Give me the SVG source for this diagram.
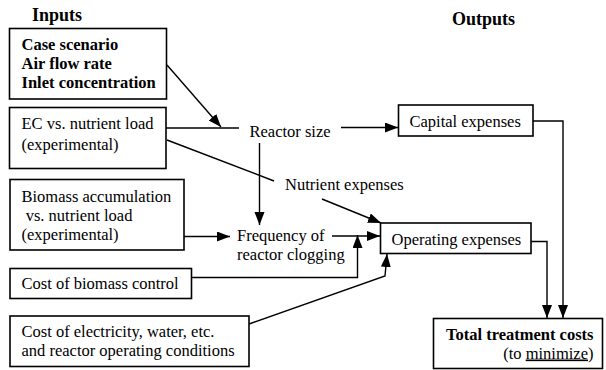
<svg xmlns="http://www.w3.org/2000/svg" width="606" height="370" viewBox="0 0 606 370">
<style>
text{font-family:"Liberation Serif",Tinos,"Times New Roman","DejaVu Serif",serif;font-size:16.5px;fill:#000}
.b{font-weight:bold}
.t{font-weight:bold;font-size:18px}
.box{fill:#fff;stroke:#000;stroke-width:1.6}
.c{fill:none;stroke:#000;stroke-width:1.4}
</style>
<defs>
<marker id="ah" markerUnits="userSpaceOnUse" markerWidth="14" markerHeight="11" refX="13" refY="5" orient="auto">
<path d="M0,0 L13,5 L0,10 z" fill="#000"/>
</marker>
</defs>
<g id="titles">
<text class="t" x="32" y="21">Inputs</text>
<text class="t" x="452" y="25">Outputs</text>
</g>
<g id="connectors">
<line class="c" x1="167" y1="65" x2="221" y2="127" marker-end="url(#ah)"/>
<line class="c" x1="166" y1="128" x2="239" y2="128"/>
<line class="c" x1="167" y1="140" x2="274" y2="181"/>
<line class="c" x1="341" y1="127.5" x2="398" y2="127.5" marker-end="url(#ah)"/>
<line class="c" x1="259.5" y1="143" x2="259.5" y2="225" marker-end="url(#ah)"/>
<line class="c" x1="184" y1="236.5" x2="230" y2="236.5" marker-end="url(#ah)"/>
<line class="c" x1="322" y1="199" x2="381" y2="223" marker-end="url(#ah)"/>
<line class="c" x1="332" y1="236" x2="380" y2="236" marker-end="url(#ah)"/>
<polyline class="c" points="192,277.5 357.5,277.5 357.5,235" marker-end="url(#ah)"/>
<polyline class="c" points="249,324 385,276 387,254" marker-end="url(#ah)"/>
<polyline class="c" points="533,121 563,121 563,318" marker-end="url(#ah)"/>
<polyline class="c" points="531,241.5 547,241.5 547,318" marker-end="url(#ah)"/>
</g>
<g id="n-case">
<rect class="box" x="9.5" y="28.5" width="157" height="70.5"/>
<text class="b" x="21.5" y="50">Case scenario</text>
<text class="b" x="21.5" y="69">Air flow rate</text>
<text class="b" x="21.5" y="88">Inlet concentration</text>
</g>
<g id="n-ec">
<rect class="box" x="9.5" y="107.5" width="156.5" height="61"/>
<text x="21.5" y="129">EC vs. nutrient load</text>
<text x="21.5" y="150">(experimental)</text>
</g>
<g id="n-biomass">
<rect class="box" x="10" y="179.5" width="174" height="70.5"/>
<text x="21.5" y="201.5">Biomass accumulation</text>
<text x="21.5" y="220.5" xml:space="preserve"> vs. nutrient load</text>
<text x="21.5" y="240">(experimental)</text>
</g>
<g id="n-biocontrol">
<rect class="box" x="10" y="268.5" width="181.5" height="30"/>
<text x="21.5" y="289">Cost of biomass control</text>
</g>
<g id="n-electricity">
<rect class="box" x="10" y="316" width="239" height="50.5"/>
<text x="21.5" y="336.5">Cost of electricity, water, etc.</text>
<text x="21.5" y="355.5">and reactor operating conditions</text>
</g>
<g id="n-reactor">
<text x="249.5" y="136.5">Reactor size</text>
</g>
<g id="n-nutrient">
<text x="285" y="190">Nutrient expenses</text>
</g>
<g id="n-frequency">
<text x="237" y="241">Frequency of</text>
<text x="237" y="260">reactor clogging</text>
</g>
<g id="n-capital">
<rect class="box" x="398.5" y="105" width="134.5" height="31"/>
<text x="409.5" y="126.5">Capital expenses</text>
</g>
<g id="n-operating">
<rect class="box" x="380.5" y="223" width="150.5" height="30.5"/>
<text x="391.5" y="245">Operating expenses</text>
</g>
<g id="n-total">
<rect class="box" x="433.5" y="318.5" width="169" height="50"/>
<text class="b" x="593.5" y="340" text-anchor="end">Total treatment costs</text>
<text x="593.5" y="358.5" text-anchor="end">(to <tspan text-decoration="underline">minimize</tspan>)</text>
</g>
</svg>
